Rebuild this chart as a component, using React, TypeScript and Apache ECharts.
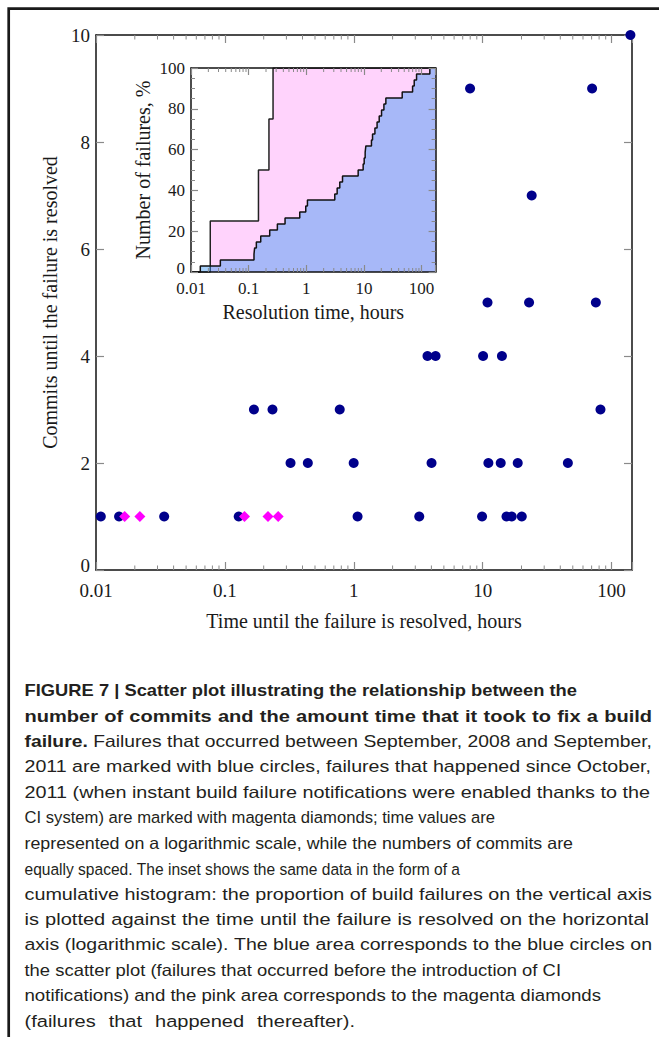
import React, { useEffect, useRef } from 'react';
import * as echarts from 'echarts';

// ---------------- data ----------------
// main scatter: blue circles (failures Sep 2008 – Sep 2011)
const blueTime = [
  0.0109, 0.0151, 0.0338, 0.128, 1.07, 3.22, 9.89, 15.3, 16.8, 20.1,
  0.323, 0.44, 0.998, 4.01, 11.07, 13.8, 18.7, 45.8,
  0.168, 0.234, 0.778, 82,
  3.73, 4.31, 10.07, 14.1,
  10.9, 22.9, 75.5,
  24.0,
  7.98, 70.6,
  140,
];
const blueCommits = [
  1, 1, 1, 1, 1, 1, 1, 1, 1, 1,
  2, 2, 2, 2, 2, 2, 2, 2,
  3, 3, 3, 3,
  4, 4, 4, 4,
  5, 5, 5,
  7,
  9, 9,
  10,
];
// magenta diamonds (failures since Oct 2011)
const magentaTime = [0.0167, 0.0219, 0.142, 0.216, 0.259];
const magentaCommits = [1, 1, 1, 1, 1];

// inset cumulative histogram (step breakpoints)
const insetPinkTime = [0.01, 0.0216, 0.148, 0.225, 0.265, 175];
const insetPinkPct = [0, 25, 50, 75, 100, 100];
const insetBlueTime = [
  0.01, 0.0145, 0.0323, 0.1238, 0.127, 0.136, 0.162, 0.232, 0.315, 0.428,
  0.77, 0.979, 1.047, 3.12, 3.43, 3.81, 4.25, 7.94, 9.69, 10.1,
  10.5, 10.8, 13.5, 14.1, 15.5, 16.9, 18.4, 20.2, 22.2, 24.0,
  46.1, 69.8, 74.5, 81.8, 139, 175,
];
const insetBluePct = [
  0, 2.9, 5.9, 8.8, 11.8, 14.7, 17.6, 20.6, 23.5, 26.5,
  29.4, 32.4, 35.3, 38.2, 41.2, 44.1, 47.1, 50, 52.9, 55.9,
  58.8, 61.8, 64.7, 67.6, 70.6, 73.5, 76.5, 79.4, 82.4, 85.3,
  88.2, 91.2, 94.1, 97.1, 100, 100,
];

// tick labels of the log axes (by decade exponent -2..2)
const logTickLabels = ['0.01', '0.1', '1', '10', '100'];

// axis titles
const mainXName = 'Time until the failure is resolved, hours';
const mainYName = 'Commits until the failure is resolved';
const insetXName = 'Resolution time, hours';
const insetYName = 'Number of failures, %';

// caption
const captionBold = [
  'FIGURE 7 | Scatter plot illustrating the relationship between the',
  'number of commits and the amount time that it took to fix a build',
  'failure.',
];
const captionRegular = [
  '',
  '',
  'Failures that occurred between September, 2008 and September,',
  '2011 are marked with blue circles, failures that happened since October,',
  '2011 (when instant build failure notifications were enabled thanks to the',
  'CI system) are marked with magenta diamonds; time values are',
  'represented on a logarithmic scale, while the numbers of commits are',
  'equally spaced. The inset shows the same data in the form of a',
  'cumulative histogram: the proportion of build failures on the vertical axis',
  'is plotted against the time until the failure is resolved on the horizontal',
  'axis (logarithmic scale). The blue area corresponds to the blue circles on',
  'the scatter plot (failures that occurred before the introduction of CI',
  'notifications) and the pink area corresponds to the magenta diamonds',
  '(failures that happened thereafter).',
];

// ---------------- styling / layout ----------------
const SERIF = '"Liberation Serif", "Times New Roman", serif';
const SANS = '"Liberation Sans", Arial, sans-serif';
const TEXT = '#1a1a1a';
const TICK = '#8a8a8a';
const AXIS_LINE = { color: '#111', width: 1.5 };
const CAP_SIZE = 16.7;
const CAP_LEFT = 24.5;
const CAP_TOP = 690.5;
const CAP_STEP = 25.4;
const CAP_RIGHT = [577, 652, 652, 651, 650, 495, 573, 460, 652, 649, 652, 561, 601, 355];

function logLabel(v: number): string {
  const e = Math.log10(v);
  const r = Math.round(e);
  if (Math.abs(e - r) > 1e-6) return '';
  return logTickLabels[r + 2] ?? '';
}

function minorLogValues(maxV: number): number[] {
  const out: number[] = [];
  for (let e = -2; e <= 2; e++) {
    for (let m = 2; m <= 9; m++) {
      const v = m * Math.pow(10, e);
      if (v < maxV) out.push(v);
    }
  }
  return out;
}

function minorTickSeries(axisIdx: number, yMin: number, yMax: number, len: number, maxV: number) {
  return {
    type: 'custom',
    xAxisIndex: axisIdx,
    yAxisIndex: axisIdx,
    z: 6,
    silent: true,
    clip: false,
    data: minorLogValues(maxV).map((v) => [v, yMin]),
    renderItem: (_p: any, api: any) => {
      const v = api.value(0);
      const b = api.coord([v, yMin]);
      const t = api.coord([v, yMax]);
      return {
        type: 'group',
        children: [
          { type: 'line', shape: { x1: b[0], y1: b[1], x2: b[0], y2: b[1] - len }, style: { stroke: TICK, lineWidth: 1 } },
          { type: 'line', shape: { x1: t[0], y1: t[1], x2: t[0], y2: t[1] + len }, style: { stroke: TICK, lineWidth: 1 } },
        ],
      };
    },
  };
}

function captionGraphics() {
  const cv = document.createElement('canvas');
  const ctx = cv.getContext('2d')!;
  const measure = (t: string, bold: boolean) => {
    ctx.font = `${bold ? 'bold ' : ''}${CAP_SIZE}px "Liberation Sans"`;
    return ctx.measureText(t).width;
  };
  const space = measure(' ', false);
  const els: any[] = [];
  captionRegular.forEach((reg, i) => {
    const b = captionBold[i] ? captionBold[i].split(' ').map((w) => ({ w, b: true })) : [];
    const r = reg ? reg.split(' ').map((w) => ({ w, b: false })) : [];
    const ws = [...b, ...r].map((o) => ({ ...o, width: measure(o.w, o.b) }));
    const n = ws.length;
    const natW = ws.reduce((a, o) => a + o.width, 0);
    const target = CAP_RIGHT[i] - CAP_LEFT;
    const ratio = target / (natW + (n - 1) * space);
    const s = Math.max(0.8, Math.min(1.2, ratio));
    const gap = n > 1 ? (target - natW * s) / (n - 1) : 0;
    const y = CAP_TOP + i * CAP_STEP;
    let x = CAP_LEFT;
    ws.forEach((o) => {
      els.push({
        type: 'text',
        x,
        y,
        scaleX: s,
        silent: true,
        style: {
          text: o.w,
          fontFamily: SANS,
          fontSize: CAP_SIZE,
          fontWeight: o.b ? 'bold' : 'normal',
          fill: '#231f20',
          align: 'left',
          verticalAlign: 'middle',
        },
      });
      x += o.width * s + gap;
    });
  });
  return els;
}

function buildOption(): any {
  const logAxis = (grid: number, max: number, pos: 'bottom' | 'top', labelSize: number, margin: number, lh: number, tickLen: number, z: number, name?: string, nameGap?: number) => ({
    type: 'log',
    logBase: 10,
    gridIndex: grid,
    min: 0.01,
    max,
    position: pos,
    z,
    axisLine: { show: true, onZero: false, lineStyle: AXIS_LINE },
    axisTick: { show: true, inside: true, length: tickLen, lineStyle: { color: TICK, width: 1.2 } },
    axisLabel: pos === 'bottom'
      ? { show: true, formatter: logLabel, fontFamily: SERIF, fontSize: labelSize, lineHeight: lh, color: TEXT, margin }
      : { show: false },
    splitLine: { show: false },
    minorTick: { show: false },
    name: name || '',
    nameLocation: 'middle',
    nameGap: nameGap || 0,
    nameTextStyle: { fontFamily: SERIF, fontSize: 20, color: TEXT },
  });
  const valAxis = (grid: number, max: number, interval: number, pos: 'left' | 'right', labelSize: number, lh: number, zeroLift: number, tickLen: number, minor: boolean, z: number, name?: string, nameGap?: number) => ({
    type: 'value',
    gridIndex: grid,
    min: 0,
    max,
    interval,
    position: pos,
    z,
    axisLine: { show: true, onZero: false, lineStyle: AXIS_LINE },
    axisTick: { show: true, inside: true, length: tickLen, lineStyle: { color: TICK, width: 1.2 } },
    minorTick: { show: minor, splitNumber: 4, length: 4, lineStyle: { color: TICK, width: 1 } },
    axisLabel: pos === 'left'
      ? {
          show: true,
          fontFamily: SERIF,
          fontSize: labelSize,
          lineHeight: lh,
          color: TEXT,
          margin: 6,
          formatter: (v: number) => (v === 0 ? '{z|0}' : String(v)),
          rich: {
            z: { fontFamily: SERIF, fontSize: labelSize, lineHeight: lh, color: TEXT, padding: [0, 0, zeroLift, 0] },
          },
        }
      : { show: false },
    splitLine: { show: false },
    name: name || '',
    nameLocation: 'middle',
    nameGap: nameGap || 0,
    nameTextStyle: { fontFamily: SERIF, fontSize: 20, color: TEXT },
  });

  return {
    animation: false,
    backgroundColor: '#ffffff',
    grid: [
      { left: 96, top: 35, width: 536, height: 535 },
      { left: 191, top: 68, width: 244.6, height: 204, show: true, backgroundColor: '#ffffff', borderWidth: 0 },
    ],
    xAxis: [
      logAxis(0, 144, 'bottom', 19, 13, 14, 8, 0, mainXName, 41),
      logAxis(0, 144, 'top', 19, 13, 14, 8, 0),
      logAxis(1, 175, 'bottom', 17, 10, 12, 7, 5, insetXName, 30),
      logAxis(1, 175, 'top', 17, 10, 12, 7, 5),
    ],
    yAxis: [
      valAxis(0, 10, 2, 'left', 19, 14, 9, 8, false, 0, mainYName, 36),
      valAxis(0, 10, 2, 'right', 19, 14, 9, 8, false, 0),
      valAxis(1, 100, 20, 'left', 17, 12, 8, 7, true, 5, insetYName, 38),
      valAxis(1, 100, 20, 'right', 17, 12, 8, 7, true, 5),
    ],
    series: [
      {
        type: 'scatter',
        xAxisIndex: 0,
        yAxisIndex: 0,
        symbol: 'circle',
        symbolSize: 10,
        itemStyle: { color: '#00008b', opacity: 1 },
        data: blueTime.map((t, i) => [t, blueCommits[i]]),
        z: 3,
      },
      {
        type: 'scatter',
        xAxisIndex: 0,
        yAxisIndex: 0,
        symbol: 'diamond',
        symbolSize: 11,
        itemStyle: { color: '#ff00ff', opacity: 1 },
        data: magentaTime.map((t, i) => [t, magentaCommits[i]]),
        z: 4,
      },
      minorTickSeries(0, 0, 10, 4.5, 144),
      {
        type: 'line',
        xAxisIndex: 2,
        yAxisIndex: 2,
        step: 'end',
        symbol: 'none',
        data: insetPinkTime.map((t, i) => [t, insetPinkPct[i]]),
        lineStyle: { color: '#222', width: 1.5 },
        areaStyle: { color: '#ffd3fc', opacity: 1 },
        z: 2,
      },
      {
        type: 'line',
        xAxisIndex: 2,
        yAxisIndex: 2,
        step: 'end',
        symbol: 'none',
        data: insetBlueTime.map((t, i) => [t, insetBluePct[i]]),
        lineStyle: { color: '#111', width: 1.5 },
        areaStyle: { color: 'rgba(60,150,245,0.45)', opacity: 1 },
        z: 3,
      },
      minorTickSeries(2, 0, 100, 4, 175),
    ],
    graphic: [
      {
        type: 'rect',
        silent: true,
        shape: { x: 8.7, y: 8.7, width: 800, height: 1200 },
        style: { fill: 'none', stroke: '#1a1a1a', lineWidth: 2.7 },
        z: 10,
      },
      ...captionGraphics(),
    ],
  };
}

export default function App() {
  const ref = useRef<HTMLDivElement>(null);
  useEffect(() => {
    if (!ref.current) return;
    const chart = echarts.init(ref.current, null, { renderer: 'svg' });
    chart.setOption(buildOption());
    return () => chart.dispose();
  }, []);
  return (
    <div
      ref={ref}
      style={{ position: 'absolute', left: 0, top: 0, width: 659, height: 1037 }}
    />
  );
}
